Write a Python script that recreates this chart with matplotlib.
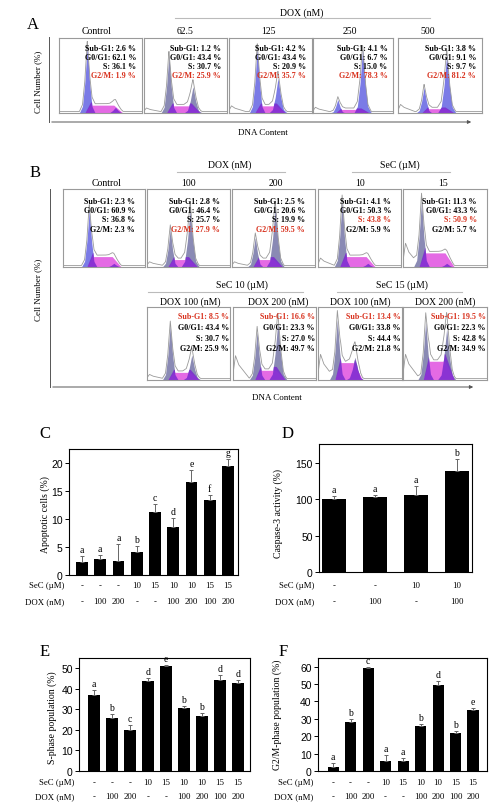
import numpy as np
import matplotlib
matplotlib.use('Agg')
import matplotlib.pyplot as plt
from matplotlib.lines import Line2D
from matplotlib.patches import FancyArrowPatch
from matplotlib.transforms import blended_transform_factory

plt.rcParams['font.family'] = ['Liberation Serif', 'DejaVu Serif']

# ---- panel A: DOX dose series (cell cycle %)
a_titles = ['Control', '62.5', '125', '250', '500']
a_sub = [2.6, 1.2, 4.2, 4.1, 3.8]
a_g01 = [62.1, 43.4, 43.4, 6.7, 9.1]
a_s = [36.1, 30.7, 20.9, 15.0, 9.7]
a_g2m = [1.9, 25.9, 35.7, 78.3, 81.2]
a_red = [3, 3, 3, 3, 3]
# peak readings (fraction of box width / height)
a_g1_pos = [0.34, 0.30, 0.34, 0.31, 0.31]
a_g1_h = [0.95, 0.81, 0.92, 0.19, 0.36]
a_g2_pos = [0.68, 0.59, 0.59, 0.62, 0.58]
a_g2_h = [0.08, 0.37, 0.49, 0.90, 0.83]
a_s_h = [0.11, 0.10, 0.10, 0.05, 0.06]
a_debris = [0.0, 0.05, 0.08, 0.06, 0.10]

# ---- panel B top row
bt_titles = ['Control', '100', '200', '10', '15']
bt_sub = [2.3, 2.8, 2.5, 4.1, 11.3]
bt_g01 = [60.9, 46.4, 20.6, 50.3, 43.3]
bt_s = [36.8, 25.7, 19.9, 43.8, 50.9]
bt_g2m = [2.3, 27.9, 59.5, 5.9, 5.7]
bt_red = [None, 3, 3, 2, 2]
bt_g1_pos = [0.32, 0.28, 0.28, 0.29, 0.22]
bt_g1_h = [0.77, 0.51, 0.40, 0.90, 0.90]
bt_g2_pos = [0.62, 0.52, 0.52, 0.60, 0.52]
bt_g2_h = [0.05, 0.78, 0.80, 0.05, 0.05]
bt_s_h = [0.14, 0.10, 0.10, 0.14, 0.19]
bt_debris = [0.0, 0.05, 0.05, 0.10, 0.30]

# ---- panel B bottom row
bb_titles = ['DOX 100 (nM)', 'DOX 200 (nM)', 'DOX 100 (nM)', 'DOX 200 (nM)']
bb_sub = [8.5, 16.6, 13.4, 19.5]
bb_g01 = [43.4, 23.3, 33.8, 22.3]
bb_s = [30.7, 27.0, 44.4, 42.8]
bb_g2m = [25.9, 49.7, 21.8, 34.9]
bb_red = [0, 0, 0, 0]
bb_g1_pos = [0.28, 0.29, 0.23, 0.27]
bb_g1_h = [0.79, 0.70, 0.88, 0.84]
bb_g2_pos = [0.54, 0.54, 0.44, 0.52]
bb_g2_h = [0.36, 0.84, 0.33, 0.74]
bb_s_h = [0.11, 0.14, 0.25, 0.27]
bb_debris = [0.06, 0.33, 0.35, 0.35]

# ---- bar charts
sec9 = ['-', '-', '-', '10', '15', '10', '10', '15', '15']
dox9 = ['-', '100', '200', '-', '-', '100', '200', '100', '200']
c_vals = [2.3, 2.8, 2.5, 4.1, 11.3, 8.5, 16.6, 13.4, 19.5]
c_errs = [1.1, 0.8, 3.0, 1.1, 1.4, 1.7, 2.2, 0.9, 1.2]
c_letters = ['a', 'a', 'a', 'b', 'c', 'd', 'e', 'f', 'g']

sec4 = ['-', '-', '10', '10']
dox4 = ['-', '100', '-', '100']
d_vals = [100, 103, 106, 139]
d_errs = [5, 3, 12, 16]
d_letters = ['a', 'a', 'a', 'b']

e_vals = [36.8, 25.7, 19.9, 43.8, 50.9, 30.7, 27.0, 44.4, 42.8]
e_errs = [2.5, 2.0, 2.4, 1.3, 0.8, 0.9, 1.2, 2.2, 1.5]
e_letters = ['a', 'b', 'c', 'd', 'e', 'b', 'b', 'd', 'd']

f_vals = [2.3, 27.9, 59.5, 5.9, 5.7, 25.9, 49.7, 21.8, 34.9]
f_errs = [2.3, 2.1, 0.5, 3.3, 1.8, 1.2, 2.3, 1.2, 1.5]
f_letters = ['a', 'b', 'c', 'a', 'a', 'b', 'd', 'b', 'e']

W, H = 500, 804
fig = plt.figure(figsize=(5, 8.04), dpi=100)

BLUE = '#7b7be6'
SLATE = '#8a8ab4'
PINK = '#e46ae4'
PURPLE = '#7a2ad0'
RED = '#d8301c'
SHAPE_OFF = np.array([-1, -0.6, -0.3, 0, 0.3, 0.6, 1])
SHAPE = np.array([0, 0.1, 0.45, 1, 0.45, 0.1, 0])


def box(x0, y0, x1, y1):
    return fig.add_axes([x0 / W, 1 - y1 / H, (x1 - x0) / W, (y1 - y0) / H])


def ftext(x, y, s, **kw):
    kw.setdefault('ha', 'center')
    kw.setdefault('va', 'center')
    fig.text(x / W, 1 - y / H, s, **kw)


def fline(xs, ys, **kw):
    fig.add_artist(Line2D([x / W for x in xs], [1 - y / H for y in ys], **kw))


def farrow(x0, x1, y):
    fig.add_artist(FancyArrowPatch((x0 / W, 1 - y / H), (x1 / W, 1 - y / H),
                                   transform=fig.transFigure, arrowstyle='-|>',
                                   mutation_scale=5, lw=0.7, color='#555555'))


def hist(ax, g1x, g1h, g2x, g2h, sh, deb, col):
    xs = np.linspace(0, 1, 400)
    p1 = g1h * np.interp(xs, g1x + SHAPE_OFF * 0.095, SHAPE)
    p2 = g2h * np.interp(xs, g2x + SHAPE_OFF * 0.11, SHAPE)
    s = sh * np.interp(xs, [g1x - 0.03, g1x + 0.04, g2x - 0.02, g2x + 0.09], [0, 1, 1, 0])
    d = deb * np.interp(xs, [0.0, 0.03, 0.07, 0.2], [0.2, 1, 0.6, 0])
    ax.fill_between(xs, p1, color=col, lw=0)
    ax.fill_between(xs, p2, color=col, lw=0)
    ax.fill_between(xs, s, color=PINK, lw=0)
    ax.fill_between(xs, np.minimum(s * 1.4, p1), color=PURPLE, lw=0, alpha=0.85)
    ax.fill_between(xs, np.minimum(s * 1.4, p2), color=PURPLE, lw=0, alpha=0.85)
    ax.plot(xs, p1 + p2 + s + d + 0.02, color='#9a9a9a', lw=0.6)
    ax.set_xlim(0, 1)
    ax.set_ylim(0, 1.05)
    ax.set_xticks([])
    ax.set_yticks([])
    for sp in ax.spines.values():
        sp.set_color('#9a9a9a')
        sp.set_linewidth(0.8)


def stats(ax, vals, red, xr, y0, dy):
    names = ['Sub-G1', 'G0/G1', 'S', 'G2/M']
    for i, (n, v) in enumerate(zip(names, vals)):
        ax.text(xr, y0 - i * dy, f'{n}: {v:.1f} %', transform=ax.transAxes,
                ha='right', va='center', fontsize=5.8, fontweight='bold',
                color=RED if red == i else 'black')


# ================= panel A =================
ftext(33, 25, 'A', fontsize=12)
ftext(302, 13, 'DOX (nM)', fontsize=7)
fline([175, 430], [19, 19], color='#bbbbbb', lw=0.8)
a_boxes = [(59, 142), (144, 227), (229, 312), (313, 393), (398, 482)]
a_tx = [97, 185, 268, 350, 428]
for i, (x0, x1) in enumerate(a_boxes):
    ax = box(x0, 39, x1, 114)
    hist(ax, a_g1_pos[i], a_g1_h[i], a_g2_pos[i], a_g2_h[i], a_s_h[i], a_debris[i],
         SLATE if i == 1 else BLUE)
    stats(ax, [a_sub[i], a_g01[i], a_s[i], a_g2m[i]], a_red[i], 0.93, 0.87, 0.12)
    ftext(a_tx[i], 31, a_titles[i], fontsize=7)
fline([49, 49], [38, 123], color='#555555', lw=0.7)
farrow(49, 474, 123)
ftext(38, 82, 'Cell Number (%)', fontsize=6.5, rotation=90)
ftext(263, 133, 'DNA Content', fontsize=6.5)

# ================= panel B =================
ftext(35, 173, 'B', fontsize=12)
ftext(230, 165, 'DOX (nM)', fontsize=7)
fline([177, 285], [173, 173], color='#bbbbbb', lw=0.8)
ftext(400, 165, 'SeC (\u00b5M)', fontsize=7)
fline([352, 450], [173, 173], color='#bbbbbb', lw=0.8)
bt_boxes = [(63, 145), (147, 230), (232, 315), (318, 401), (403, 487)]
bt_tx = [107, 188, 276, 360, 443]
for i, (x0, x1) in enumerate(bt_boxes):
    ax = box(x0, 190, x1, 268)
    hist(ax, bt_g1_pos[i], bt_g1_h[i], bt_g2_pos[i], bt_g2_h[i], bt_s_h[i], bt_debris[i],
         BLUE if i == 0 else SLATE)
    stats(ax, [bt_sub[i], bt_g01[i], bt_s[i], bt_g2m[i]], bt_red[i], 0.88, 0.85, 0.12)
    ftext(bt_tx[i], 183, bt_titles[i], fontsize=7)

ftext(242, 285, 'SeC 10 (\u00b5M)', fontsize=7)
fline([148, 303], [293, 293], color='#bbbbbb', lw=0.8)
ftext(402, 285, 'SeC 15 (\u00b5M)', fontsize=7)
fline([337, 462], [293, 293], color='#bbbbbb', lw=0.8)
bb_boxes = [(147, 230), (233, 316), (318, 402), (403, 487)]
bb_tx = [190, 278, 360, 445]
for i, (x0, x1) in enumerate(bb_boxes):
    ax = box(x0, 308, x1, 381)
    hist(ax, bb_g1_pos[i], bb_g1_h[i], bb_g2_pos[i], bb_g2_h[i], bb_s_h[i], bb_debris[i], SLATE)
    stats(ax, [bb_sub[i], bb_g01[i], bb_s[i], bb_g2m[i]], bb_red[i], 0.985, 0.87, 0.145)
    ftext(bb_tx[i], 302, bb_titles[i], fontsize=7)
fline([50, 50], [190, 388], color='#555555', lw=0.7)
farrow(50, 476, 388)
ftext(38, 290, 'Cell Number (%)', fontsize=6.5, rotation=90)
ftext(277, 398, 'DNA Content', fontsize=6.5)


# ================= bar charts =================
def bar_panel(rect, vals, errs, letters, sec, dox, ylim, yticks, width, xlim,
              ylabel, ylab_xy, rows_y):
    x0, y0, x1, y1 = rect
    ax = box(x0, y0, x1, y1)
    xp = np.arange(len(vals))
    ax.bar(xp, vals, width=width, color='black')
    ax.errorbar(xp, vals, yerr=[np.zeros(len(vals)), errs], fmt='none',
                ecolor='#666666', elinewidth=0.7, capsize=1.3, capthick=0.7)
    for xi, v, e, l in zip(xp, vals, errs, letters):
        ax.annotate(l, (xi, v + e), xytext=(0, 1.5), textcoords='offset points',
                    ha='center', va='bottom', fontsize=7)
    ax.set_xlim(*xlim)
    ax.set_ylim(*ylim)
    ax.set_xticks([])
    ax.set_yticks(yticks)
    ax.tick_params(axis='y', direction='out', length=3, width=0.7, pad=1.5,
                   labelsize=7.5)
    for t in ax.get_yticklabels():
        t.set_fontfamily('Liberation Sans')
    for sp in ax.spines.values():
        sp.set_linewidth(0.8)
    ftext(ylab_xy[0], ylab_xy[1], ylabel, fontsize=7, rotation=90)
    tr = blended_transform_factory(ax.transData, fig.transFigure)
    for row, ypx, lab in zip([sec, dox], rows_y, ['SeC (\u00b5M)', 'DOX (nM)']):
        ftext(x0 - 5, ypx, lab, ha='right', fontsize=6.3)
        for xi, s in zip(xp, row):
            ax.text(xi, 1 - ypx / H, s, transform=tr, ha='center', va='center',
                    fontsize=6.3)
    return ax


ftext(45, 434, 'C', fontsize=12)
ftext(288, 434, 'D', fontsize=12)
ftext(45, 652, 'E', fontsize=12)
ftext(283, 652, 'F', fontsize=12)

bar_panel((69, 450, 238, 576), c_vals, c_errs, c_letters, sec9, dox9,
          (0, 22.5), [0, 5, 10, 15, 20], 0.65, (-0.71, 8.55),
          'Apoptotic cells (%)', (45, 515), (586, 602))
bar_panel((319, 445, 472, 573), d_vals, d_errs, d_letters, sec4, dox4,
          (0, 176), [0, 50, 100, 150], 0.6, (-0.37, 3.37),
          'Caspase-3 activity (%)', (278, 513), (586, 602))
bar_panel((79, 659, 250, 772), e_vals, e_errs, e_letters, sec9, dox9,
          (0, 55), [0, 10, 20, 30, 40, 50], 0.7, (-0.83, 8.67),
          'S-phase population (%)', (52, 718), (783, 797))
bar_panel((318, 659, 487, 772), f_vals, f_errs, f_letters, sec9, dox9,
          (0, 65), [0, 10, 20, 30, 40, 50, 60], 0.63, (-0.86, 8.8),
          'G2/M-phase population (%)', (277, 715), (783, 797))

fig.savefig('out.png', dpi=100)
